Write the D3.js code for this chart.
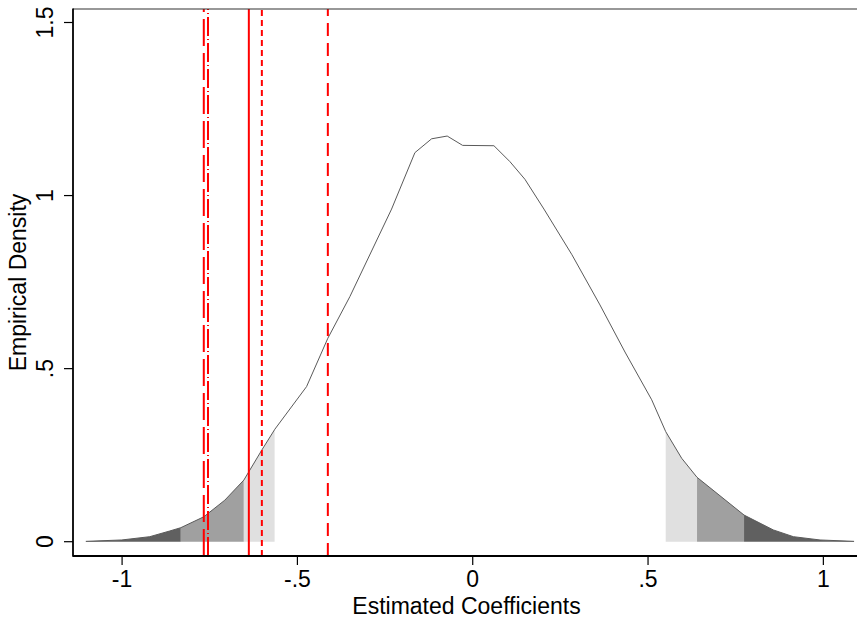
<!DOCTYPE html>
<html>
<head>
<meta charset="utf-8">
<script src="https://cdn.jsdelivr.net/npm/d3@7"></script>
<style>
  html, body { margin: 0; padding: 0; background: #fff; }
  svg { display: block; }
  text { font-family: "Liberation Sans", Arial, Helvetica, sans-serif; fill: #000; }
</style>
</head>
<body>
<svg id="chart" width="857" height="619"></svg>
<script>
// ---- data ----
const densityX = [-1.1035, -1.0009, -0.921, -0.8639, -0.8325, -0.7669, -0.707, -0.6528, -0.6014, -0.5643,
  -0.4739, -0.4131, -0.3504, -0.2314, -0.1649, -0.1173, -0.0728, -0.0288, 0.0605, 0.1061, 0.1489,
  0.2031, 0.283, 0.3629, 0.4342, 0.5104, 0.5504, 0.596, 0.6397, 0.7738, 0.8573, 0.9144, 0.9906, 1.0876];
const densityY = [0.001, 0.005, 0.0145, 0.031, 0.0405, 0.072, 0.12, 0.178, 0.265, 0.325,
  0.448, 0.588, 0.708, 0.961, 1.124, 1.164, 1.172, 1.145, 1.144, 1.098, 1.047,
  0.961, 0.829, 0.684, 0.548, 0.41, 0.318, 0.241, 0.186, 0.077, 0.034, 0.0145, 0.005, 0.001];

// shaded tail bands: [from, to, shade]
const bandFrom  = [-1.1035, -0.8325, -0.6528, 0.5504, 0.6397, 0.7738];
const bandTo    = [-0.8325, -0.6528, -0.5650, 0.6397, 0.7738, 1.0876];
const bandShade = ["dark", "medium", "light", "light", "medium", "dark"];

// red reference lines: position and line style
const refX     = [-0.767, -0.755, -0.6385, -0.6014, -0.4132];
const refStyle = ["longdash", "dashdot", "solid", "shortdash", "dash"];

const xTicks = [-1, -0.5, 0, 0.5, 1];
const xTickLabels = ["-1", "-.5", "0", ".5", "1"];
const yTicks = [0, 0.5, 1, 1.5];
const yTickLabels = ["0", ".5", "1", "1.5"];
const xTitle = "Estimated Coefficients";
const yTitle = "Empirical Density";

// ---- styles ----
const shadeColor = { dark: "#606060", medium: "#a0a0a0", light: "#e0e0e0" };
const dashArray = { longdash: "27,7", dashdot: "19,3,1,3", solid: null, shortdash: "6,4", dash: "13,7" };

// ---- layout ----
const svg = d3.select("#chart");
const L = 73, R = 860, T = 9, B = 556;
const x = d3.scaleLinear().domain([-1.14, 1.1045]).range([L, R]);
const y = d3.scaleLinear().domain([-0.0413, 1.539]).range([B, T]);
const FS = 23;

const pts = densityX.map((v, i) => [v, densityY[i]]);

// clip paths for bands
const defs = svg.append("defs");
bandFrom.forEach((a, i) => {
  defs.append("clipPath").attr("id", "band" + i)
    .append("rect")
    .attr("x", x(a)).attr("y", T)
    .attr("width", x(bandTo[i]) - x(a)).attr("height", y(0) - T + 0.5);
});

const area = d3.area().x(d => x(d[0])).y0(y(0)).y1(d => y(d[1]));
bandFrom.forEach((a, i) => {
  svg.append("path").datum(pts)
    .attr("d", area)
    .attr("fill", shadeColor[bandShade[i]])
    .attr("clip-path", "url(#band" + i + ")");
});

// density curve
svg.append("path").datum(pts)
  .attr("d", d3.line().x(d => x(d[0])).y(d => y(d[1])))
  .attr("fill", "none")
  .attr("stroke", "#5a5a5a")
  .attr("stroke-width", 1);

// red reference lines
refX.forEach((v, i) => {
  const ln = svg.append("line")
    .attr("x1", x(v)).attr("x2", x(v))
    .attr("y1", B).attr("y2", T)
    .attr("stroke", "#ff0000")
    .attr("stroke-width", 2);
  if (dashArray[refStyle[i]]) ln.attr("stroke-dasharray", dashArray[refStyle[i]]);
});

// frame / axes lines
svg.append("line").attr("x1", L).attr("x2", 857).attr("y1", T).attr("y2", T)
  .attr("stroke", "#333").attr("stroke-width", 1.2);
svg.append("line").attr("x1", L).attr("x2", L).attr("y1", T - 0.6).attr("y2", B + 0.8)
  .attr("stroke", "#000").attr("stroke-width", 1.8);
svg.append("line").attr("x1", L).attr("x2", 857).attr("y1", B).attr("y2", B)
  .attr("stroke", "#000").attr("stroke-width", 1.8);

// x axis ticks
const xAxisG = svg.append("g");
xTicks.forEach((t, i) => {
  xAxisG.append("line").attr("x1", x(t)).attr("x2", x(t)).attr("y1", B).attr("y2", B + 9)
    .attr("stroke", "#000").attr("stroke-width", 1.2);
  xAxisG.append("text").attr("x", x(t)).attr("y", 587)
    .attr("text-anchor", "middle").attr("font-size", FS).text(xTickLabels[i]);
});
svg.append("text").attr("x", (L + R) / 2).attr("y", 614)
  .attr("text-anchor", "middle").attr("font-size", FS).text(xTitle);

// y axis ticks
const yAxisG = svg.append("g");
yTicks.forEach((t, i) => {
  yAxisG.append("line").attr("x1", L - 9).attr("x2", L).attr("y1", y(t)).attr("y2", y(t))
    .attr("stroke", "#000").attr("stroke-width", 1.2);
  yAxisG.append("text")
    .attr("transform", `translate(53,${y(t)}) rotate(-90)`)
    .attr("text-anchor", "middle").attr("font-size", FS).text(yTickLabels[i]);
});
svg.append("text")
  .attr("transform", `translate(26,${(T + B) / 2}) rotate(-90)`)
  .attr("text-anchor", "middle").attr("font-size", FS).text(yTitle);
</script>
</body>
</html>
